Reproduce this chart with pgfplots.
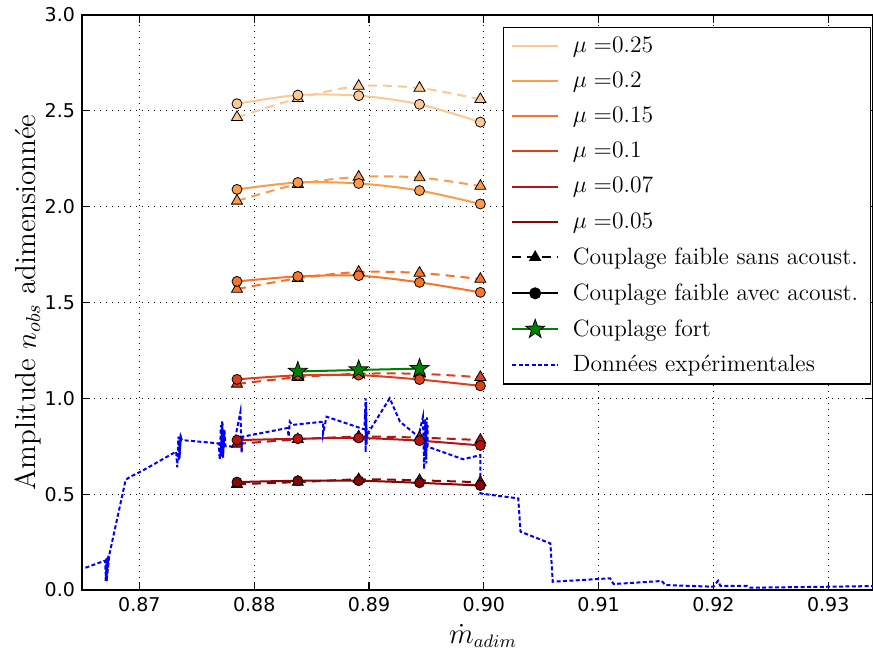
\documentclass[border=0pt]{standalone}
\usepackage{fontspec}
\usepackage{pgfplots}
\pgfplotsset{compat=1.18}
\newfontfamily\tickfont{DejaVu Sans}
\definecolor{cA}{RGB}{253,200,148}
\definecolor{cB}{RGB}{253,155,75}
\definecolor{cC}{RGB}{249,115,40}
\definecolor{cD}{RGB}{222,62,25}
\definecolor{cE}{RGB}{185,20,20}
\definecolor{cF}{RGB}{135,5,5}
\definecolor{cG}{RGB}{0,128,0}
\pgfdeclareplotmark{fstar}{%
  \pgfpathmoveto{\pgfpointpolar{90}{\pgfplotmarksize}}%
  \pgfpathlineto{\pgfpointpolar{126}{0.4\pgfplotmarksize}}%
  \pgfpathlineto{\pgfpointpolar{162}{\pgfplotmarksize}}%
  \pgfpathlineto{\pgfpointpolar{198}{0.4\pgfplotmarksize}}%
  \pgfpathlineto{\pgfpointpolar{234}{\pgfplotmarksize}}%
  \pgfpathlineto{\pgfpointpolar{270}{0.4\pgfplotmarksize}}%
  \pgfpathlineto{\pgfpointpolar{306}{\pgfplotmarksize}}%
  \pgfpathlineto{\pgfpointpolar{342}{0.4\pgfplotmarksize}}%
  \pgfpathlineto{\pgfpointpolar{18}{\pgfplotmarksize}}%
  \pgfpathlineto{\pgfpointpolar{54}{0.4\pgfplotmarksize}}%
  \pgfpathclose
  \pgfusepathqfillstroke}
\tikzset{
  avec/.style={solid, line width=1pt, smooth, mark=*, mark size=2.5pt, mark options={solid, fill=#1, draw=black, line width=0.4pt}, draw=#1},
  sans/.style={dash pattern=on 4.5pt off 3pt, line width=1pt, smooth, mark=triangle*, mark size=3.2pt, mark options={solid, fill=#1, draw=black, line width=0.4pt}, draw=#1},
}
\begin{document}
\begin{tikzpicture}
\begin{axis}[name=ax, scale only axis, width=395.5pt, height=287.5pt,
  xmin=0.865, xmax=0.9339, ymin=0, ymax=3,
  xtick={0.87,0.88,0.89,0.90,0.91,0.92,0.93},
  ytick={0,0.5,1,1.5,2,2.5,3},
  scaled x ticks=false, scaled y ticks=false,
  /pgf/number format/assume math mode=true,
  xticklabel style={/pgf/number format/fixed, /pgf/number format/fixed zerofill, /pgf/number format/precision=2},
  yticklabel style={/pgf/number format/fixed, /pgf/number format/fixed zerofill, /pgf/number format/precision=1},
  tick label style={font=\tickfont\fontsize{9.5}{11}\selectfont},
  grid=major, grid style={black, line width=0.5pt, dash pattern=on 0.6pt off 2.4pt},
  tick align=inside, major tick length=4pt, tick style={black, line width=0.6pt},
  axis line style={line width=0.8pt},
  xlabel={$\dot{m}_{adim}$},
  ylabel={Amplitude $n_{obs}$ adimensionnée},
  xlabel style={at={(axis description cs:0.507,-0.08)}, anchor=center, font=\fontsize{13.5}{16}\selectfont},
  ylabel style={at={(axis description cs:-0.068,0.5)}, anchor=center, font=\fontsize{14.5}{17}\selectfont},
  legend style={at={(axis description cs:0.532,0.979)}, anchor=north west, draw=black, line width=0.6pt, font=\fontsize{11.8}{14}\selectfont, row sep=4.2pt, inner xsep=4pt, inner ysep=2.5pt,
    /tikz/every odd column/.append style={column sep=5pt}},
  legend cell align=left,
  legend image code/.code={\draw[mark repeat=2,mark phase=2,#1] plot coordinates {(0cm,0cm) (0.4cm,0cm) (0.8cm,0cm)};},
]
\addlegendimage{cA, line width=1pt}\addlegendentry{$\mu=$0.25}
\addlegendimage{cB, line width=1pt}\addlegendentry{$\mu=$0.2}
\addlegendimage{cC, line width=1pt}\addlegendentry{$\mu=$0.15}
\addlegendimage{cD, line width=1pt}\addlegendentry{$\mu=$0.1}
\addlegendimage{cE, line width=1pt}\addlegendentry{$\mu=$0.07}
\addlegendimage{cF, line width=1pt}\addlegendentry{$\mu=$0.05}
\addlegendimage{black, line width=1pt, dash pattern=on 4.5pt off 3pt, mark=triangle*, mark size=2.6pt, mark options={solid}}\addlegendentry{Couplage faible sans acoust.}
\addlegendimage{black, line width=1pt, mark=*, mark size=2.5pt}\addlegendentry{Couplage faible avec acoust.}
\addlegendimage{cG, line width=1pt, mark=fstar, mark size=5pt, mark options={fill=cG, draw=black, line width=0.4pt}}\addlegendentry{Couplage fort}
\addlegendimage{blue, line width=1pt, dash pattern=on 2pt off 1.2pt}\addlegendentry{Données expérimentales}

% mu = 0.25
\addplot[forget plot, sans=cA] coordinates {(0.8785,2.466) (0.8838,2.565) (0.8891,2.629) (0.8944,2.619) (0.8997,2.560)};
\addplot[forget plot, avec=cA] coordinates {(0.8785,2.537) (0.8838,2.582) (0.8891,2.579) (0.8944,2.534) (0.8997,2.441)};
% mu = 0.2
\addplot[forget plot, sans=cB] coordinates {(0.8785,2.030) (0.8838,2.117) (0.8891,2.155) (0.8944,2.152) (0.8997,2.107)};
\addplot[forget plot, avec=cB] coordinates {(0.8785,2.090) (0.8838,2.126) (0.8891,2.121) (0.8944,2.084) (0.8997,2.014)};
% mu = 0.15
\addplot[forget plot, sans=cC] coordinates {(0.8785,1.570) (0.8838,1.626) (0.8891,1.659) (0.8944,1.654) (0.8997,1.622)};
\addplot[forget plot, avec=cC] coordinates {(0.8785,1.610) (0.8838,1.636) (0.8891,1.640) (0.8944,1.605) (0.8997,1.553)};
% mu = 0.1
\addplot[forget plot, sans=cD] coordinates {(0.8785,1.075) (0.8838,1.110) (0.8891,1.128) (0.8944,1.128) (0.8997,1.110)};
\addplot[forget plot, avec=cD] coordinates {(0.8785,1.099) (0.8838,1.120) (0.8891,1.121) (0.8944,1.098) (0.8997,1.065)};
% mu = 0.07
\addplot[forget plot, sans=cE] coordinates {(0.8785,0.762) (0.8838,0.786) (0.8891,0.800) (0.8944,0.795) (0.8997,0.782)};
\addplot[forget plot, avec=cE] coordinates {(0.8785,0.782) (0.8838,0.789) (0.8891,0.793) (0.8944,0.779) (0.8997,0.754)};
% mu = 0.05
\addplot[forget plot, sans=cF] coordinates {(0.8785,0.552) (0.8838,0.563) (0.8891,0.577) (0.8944,0.572) (0.8997,0.562)};
\addplot[forget plot, avec=cF] coordinates {(0.8785,0.563) (0.8838,0.570) (0.8891,0.570) (0.8944,0.559) (0.8997,0.545)};
% couplage fort
\addplot[forget plot, cG, line width=1pt, mark=fstar, mark size=5pt, mark options={fill=cG, draw=black, line width=0.4pt}] coordinates {(0.8838,1.140) (0.8891,1.148) (0.8944,1.155)};
% experimental
\addplot[forget plot, blue, line width=1pt, dash pattern=on 2pt off 1.2pt] table {
0.8653 0.116
0.8670 0.153
0.8671 0.05
0.86715 0.17
0.86705 0.04
0.8672 0.16
0.8671 0.06
0.86725 0.17
0.86705 0.05
0.8672 0.15
0.8671 0.07
0.8673 0.16
0.86715 0.045
0.8673 0.18
0.8671 0.06
0.8672 0.14
0.8672 0.08
0.8674 0.19
0.8688 0.574
0.8692 0.591
0.8701 0.617
0.8732 0.722
0.8733 0.64
0.8734 0.80
0.8735 0.69
0.8736 0.81
0.8735 0.70
0.8736 0.79
0.87345 0.68
0.8736 0.80
0.8737 0.782
0.8769 0.765
0.8770 0.68
0.8771 0.86
0.8772 0.70
0.8772 0.88
0.8773 0.69
0.8772 0.85
0.8773 0.71
0.8774 0.83
0.8773 0.72
0.8774 0.80
0.87705 0.69
0.87725 0.87
0.8771 0.73
0.8774 0.84
0.8775 0.75
0.8782 0.748
0.8788 0.93
0.8789 0.713
0.8790 0.80
0.8829 0.845
0.8830 0.80
0.8831 0.878
0.8833 0.861
0.8860 0.878
0.8860 0.817
0.8863 0.904
0.8896 0.838
0.8897 1.0
0.8897 0.72
0.88975 0.98
0.8898 0.76
0.8897 0.95
0.8898 0.78
0.88965 0.92
0.88985 0.80
0.8899 0.817
0.8918 1.0
0.8927 0.878
0.8943 0.80
0.8947 0.904
0.8948 0.63
0.8949 0.89
0.8950 0.66
0.8949 0.88
0.8950 0.70
0.8950 0.87
0.89485 0.72
0.89505 0.90
0.8949 0.75
0.8951 0.86
0.8951 0.748
0.8982 0.682
0.8997 0.704
0.8997 0.504
0.9000 0.501
0.9030 0.478
0.9032 0.304
0.9058 0.243
0.9060 0.043
0.9110 0.061
0.9113 0.031
0.9155 0.047
0.9158 0.026
0.9200 0.017
0.9204 0.048
0.9206 0.022
0.9229 0.022
0.9232 0.012
0.9300 0.017
0.9345 0.021
};
\end{axis}
\pgfresetboundingbox
\useasboundingbox ([xshift=-41pt,yshift=-32.5pt]ax.south west) rectangle ([yshift=7.5pt]ax.north east);
\end{tikzpicture}
\end{document}
